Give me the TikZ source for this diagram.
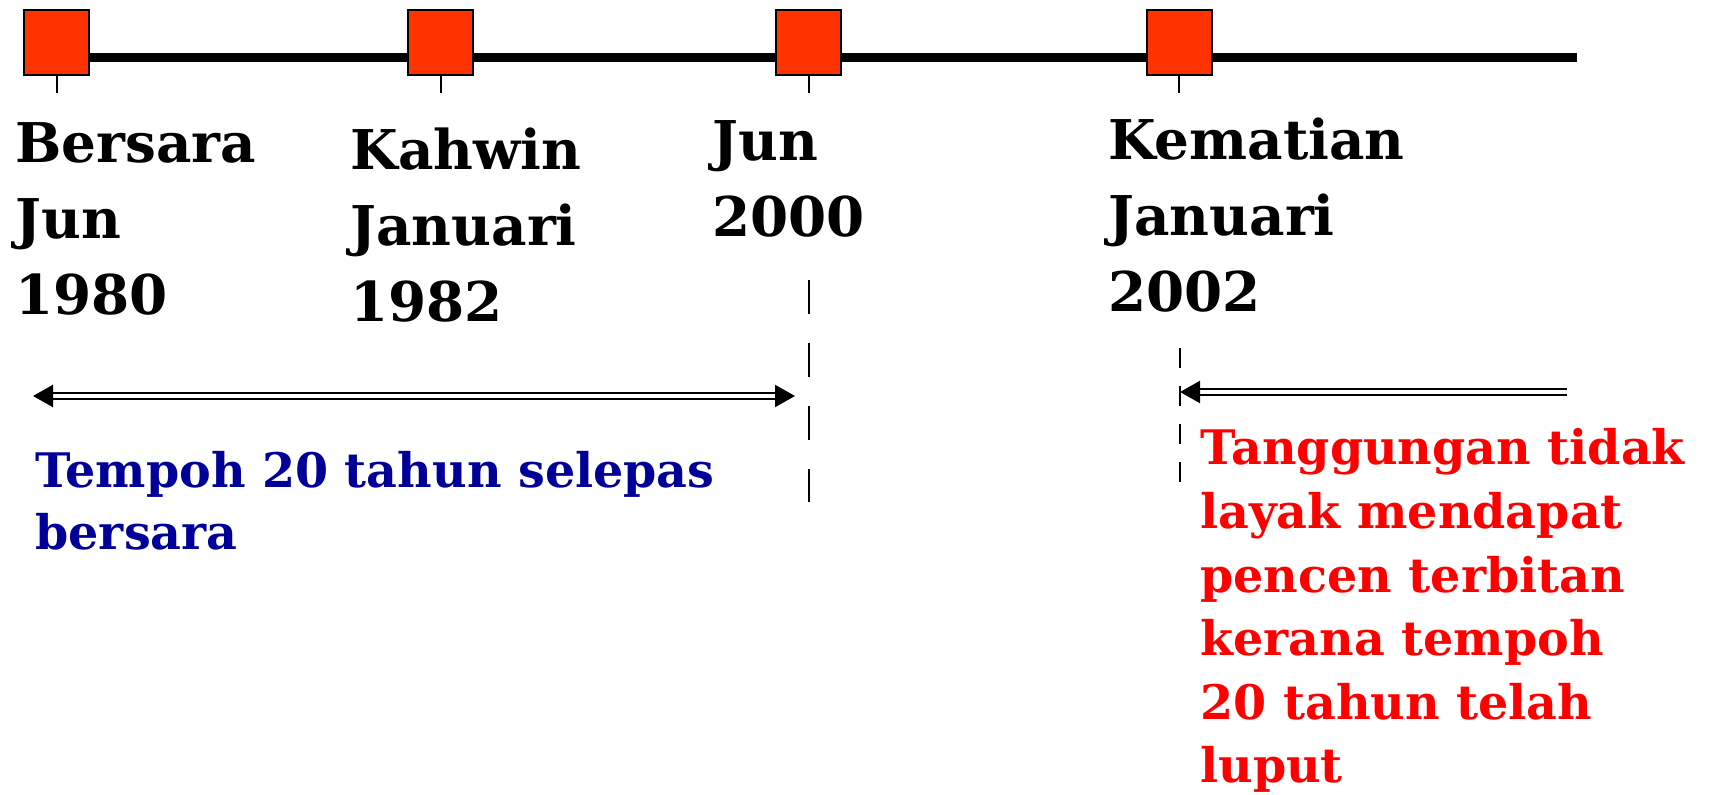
\documentclass[tikz,border=0pt]{standalone}
\usepackage{fontspec}
\setmainfont{DejaVu Serif}
\usetikzlibrary{arrows.meta}
\definecolor{boxred}{RGB}{255,51,0}
\definecolor{navy}{RGB}{0,0,153}
\tikzstyle{every node}=[inner sep=0pt]
\tikzstyle{event}=[draw=black,line width=1pt,fill=boxred,minimum size=32.5pt]
\tikzstyle{datelabel}=[anchor=base west,align=left,font=\fontsize{27.4}{38}\selectfont\bfseries]
\tikzstyle{note}=[anchor=base west,align=left,font=\fontsize{23.8}{31}\selectfont\bfseries]
\tikzstyle{span}=[line width=1.1pt,double=white,double distance=1.6pt]

\begin{document}
\begin{tikzpicture}[x=0.5pt,y=-0.5pt]
    \useasboundingbox (0,0) rectangle (1709,795);

    % Define named coordinates
    \coordinate (LineStart) at (56,58);
    \coordinate (LineEnd) at (1577,58);
    \coordinate (RetireL) at (33,396);
    \coordinate (RetireR) at (795,396);
    \coordinate (LapseL) at (1180,392);
    \coordinate (LapseR) at (1567,392);

    % Time line and events
    \draw [line width=4.5pt] (LineStart) -- (LineEnd);
    \node [event] (e1) at (56.5,42.5) {};
    \node [event] (e2) at (440.5,42.5) {};
    \node [event] (e3) at (808.5,42.5) {};
    \node [event] (e4) at (1179,42.5) {};
    \foreach \e in {e1,e2,e3,e4}
        \draw [line width=1pt] (\e.south) -- ++(0,17);

    % Dates (base = last line)
    \node [datelabel] (bersara) at (15,315) {Bersara\\Jun\\1980};
    \node [datelabel] (kahwin) at (350,322) {Kahwin\\Januari\\1982};
    \node [datelabel] (jun) at (712,237) {Jun\\2000};
    \node [datelabel] (kematian) at (1108,312) {Kematian\\Januari\\2002};

    % Dashed markers
    \draw [line width=1pt,dash pattern=on 17pt off 14.5pt] (e3.center |- 0,280) coordinate (d3top) -- (e3.center |- 0,502) coordinate (d3bot);
    \draw [line width=1pt,dash pattern=on 10pt off 9pt] (LapseL |- 0,348) coordinate (d4top) -- (LapseL |- 0,482) coordinate (d4bot);

    % Periods
    \draw [span,{Triangle[length=10pt,width=11pt]}-{Triangle[length=10pt,width=11pt]}] (RetireL) -- (RetireR);
    \draw [span,-{Triangle[length=10pt,width=11pt]}] (LapseR) -- (LapseL);

    % Notes
    \node [note,text=navy] (tempoh) at (35,550) {Tempoh 20 tahun selepas\\bersara};
    \node [note,text=red,font=\fontsize{23.8}{31.8}\selectfont\bfseries] (tanggungan) at (1200,783)
        {Tanggungan tidak\\layak mendapat\\pencen terbitan\\kerana tempoh\\20 tahun telah\\luput};
\end{tikzpicture}
\end{document}
